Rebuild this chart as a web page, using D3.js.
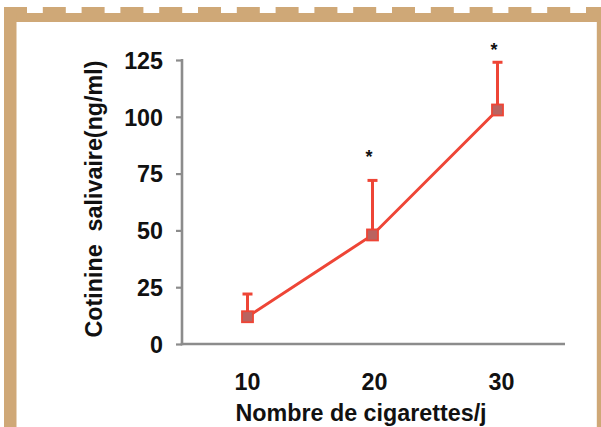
<!DOCTYPE html>
<html>
<head>
<meta charset="utf-8">
<script src="https://cdn.jsdelivr.net/npm/d3@7/dist/d3.min.js"></script>
<style>
  html, body { margin: 0; padding: 0; background: #ffffff; }
  svg { display: block; }
  text { font-family: "Liberation Sans", Arial, sans-serif; font-weight: bold; fill: #111; }
</style>
</head>
<body>
<svg id="chart" width="601" height="427"></svg>
<script>
// Cigarettes per day vs salivary cotinine (mean + upper error bar)
const cigarettes = [10, 20, 30];
const cotinine = [12, 48, 103];
const errorTop = [22, 72, 124];
const significant = [false, true, true];
const starLevel = [null, 84, 131];
const yTicks = [0, 25, 50, 75, 100, 125];
const xTicks = [10, 20, 30];

const svg = d3.select("#chart");
const W = 601, H = 427;
const frameColor = "#CFA877";
const red = "#EE4536";
const fontSize = 23.3;

// Decorative frame: dashed top edge, solid top band, side bands
const frame = svg.append("g");
const dashPeriod = 38.8, dashLen = 23;
for (let x = 4; x < W; x += dashPeriod) {
  frame.append("rect").attr("x", x).attr("y", 7)
    .attr("width", Math.min(dashLen, W - x)).attr("height", 6.5).attr("fill", frameColor);
}
frame.append("rect").attr("x", 4).attr("y", 13).attr("width", W - 4).attr("height", 9).attr("fill", frameColor);
frame.append("rect").attr("x", 4).attr("y", 13).attr("width", 12.5).attr("height", H - 13).attr("fill", frameColor);
frame.append("rect").attr("x", 596.8).attr("y", 13).attr("width", W - 596.8).attr("height", H - 13).attr("fill", frameColor);

// Scales
const x = d3.scaleLinear().domain([10, 30]).range([247.5, 497.5]);
const y = d3.scaleLinear().domain([0, 125]).range([344, 60]);
const axisLeftX = 182;
const axisRight = 565;

// Y axis
const yAxis = d3.axisLeft(y).tickValues(yTicks).tickSize(6).tickPadding(13);
const gy = svg.append("g").attr("transform", `translate(${axisLeftX},0)`).call(yAxis);
gy.select(".domain").remove();
gy.selectAll(".tick line").attr("stroke", "#8c8c8c").attr("stroke-width", 2.2);
gy.selectAll(".tick text").attr("font-size", fontSize).attr("dy", "0.36em").style("fill", "#111");
gy.append("line").attr("x1", 0).attr("x2", 0).attr("y1", y(125) - 1).attr("y2", y(0) + 1.2)
  .attr("stroke", "#8c8c8c").attr("stroke-width", 2.6);

// X axis (baseline only, labels below)
const gx = svg.append("g").attr("transform", `translate(0,${y(0)})`);
gx.append("line").attr("x1", axisLeftX - 1.3).attr("x2", axisRight).attr("y1", 0).attr("y2", 0)
  .attr("stroke", "#8c8c8c").attr("stroke-width", 2.6);
gx.selectAll("text.xt").data(xTicks).join("text")
  .attr("class", "xt")
  .attr("x", d => x(d) + (d - 10) * 0.2)
  .attr("y", 46)
  .attr("text-anchor", "middle")
  .attr("font-size", fontSize)
  .text(d => d);

// Axis titles
svg.append("text")
  .attr("transform", "translate(102,199) rotate(-90)")
  .attr("text-anchor", "middle")
  .attr("font-size", fontSize)
  .style("white-space", "pre")
  .text("Cotinine  salivaire(ng/ml)");
svg.append("text")
  .attr("x", 361).attr("y", 421)
  .attr("text-anchor", "middle")
  .attr("font-size", fontSize)
  .text("Nombre de cigarettes/j");

const pts = cigarettes.map((c, i) => ({ c, v: cotinine[i], e: errorTop[i], s: significant[i], sy: starLevel[i] }));

// Upper error bars
const eb = svg.append("g").attr("stroke", red).attr("stroke-width", 3);
eb.selectAll("line.stem").data(pts).join("line").attr("class", "stem")
  .attr("x1", d => x(d.c)).attr("x2", d => x(d.c))
  .attr("y1", d => y(d.v)).attr("y2", d => y(d.e));
eb.selectAll("line.cap").data(pts).join("line").attr("class", "cap")
  .attr("x1", d => x(d.c) - 5).attr("x2", d => x(d.c) + 5)
  .attr("y1", d => y(d.e)).attr("y2", d => y(d.e));

// Mean line
svg.append("path").datum(pts)
  .attr("fill", "none").attr("stroke", red).attr("stroke-width", 3)
  .attr("d", d3.line().x(d => x(d.c)).y(d => y(d.v)));

// Square markers
svg.selectAll("rect.mk").data(pts).join("rect").attr("class", "mk")
  .attr("x", d => x(d.c) - 5.5).attr("y", d => y(d.v) - 5.5)
  .attr("width", 11).attr("height", 11)
  .attr("fill", "#BA6360").attr("stroke", red).attr("stroke-width", 1.8);

// Significance asterisks
svg.selectAll("text.star").data(pts.filter(d => d.s)).join("text").attr("class", "star")
  .attr("x", d => x(d.c) - 3.5)
  .attr("y", d => y(d.sy) + 10)
  .attr("text-anchor", "middle")
  .attr("font-size", 18)
  .text("*");
</script>
</body>
</html>
